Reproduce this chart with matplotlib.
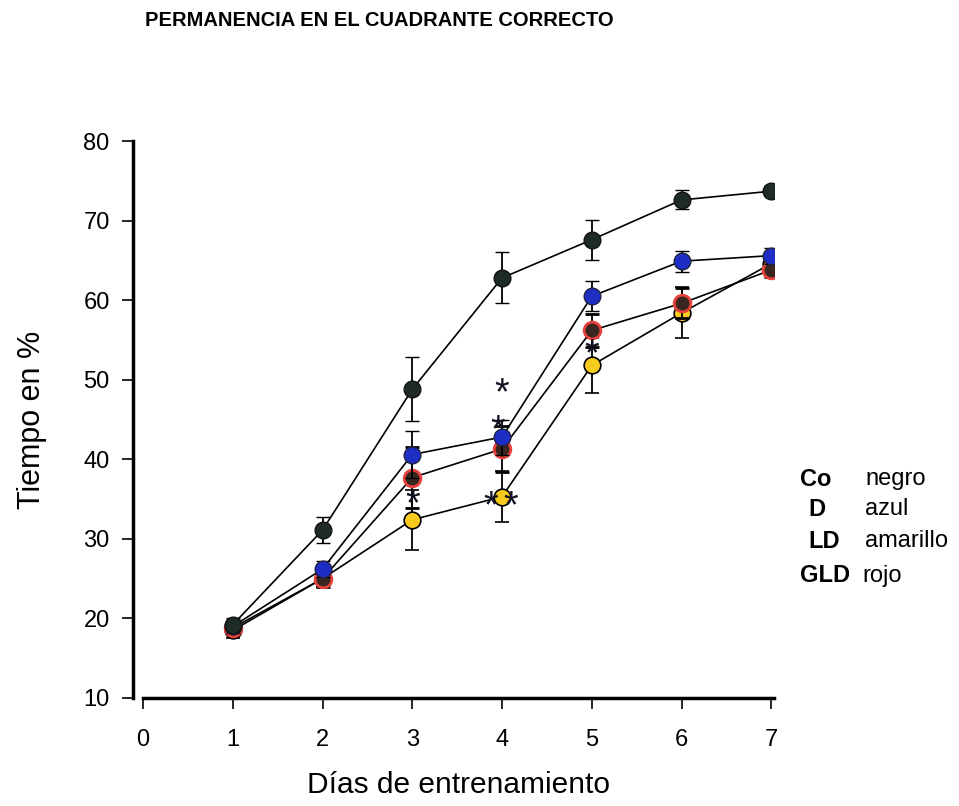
import matplotlib
matplotlib.use("Agg")
import matplotlib.pyplot as plt

plt.rcParams['font.family'] = ['Liberation Sans', 'DejaVu Sans']

days = [1, 2, 3, 4, 5, 6, 7]

# Series values (Tiempo en %) and standard errors
co_vals = [19.2, 31.1, 48.8, 62.8, 67.6, 72.6, 73.7]
co_err = [0.8, 1.6, 4.0, 3.2, 2.5, 1.2, 0.6]
d_vals = [19.0, 26.2, 40.6, 42.8, 60.5, 64.9, 65.6]
d_err = [0.8, 1.0, 3.0, 2.2, 1.9, 1.3, 1.0]
gld_vals = [18.8, 25.0, 37.7, 41.3, 56.2, 59.6, 63.8]
gld_err = [0.8, 1.0, 3.8, 2.9, 2.1, 1.9, 0.9]
ld_vals = [18.5, 25.0, 32.4, 35.3, 51.8, 58.4, 64.6]
ld_err = [1.0, 1.1, 3.8, 3.2, 3.5, 3.2, 1.0]

# significance asterisks
star_x = [3.0, 4.0, 3.95, 3.87, 4.1, 5.0]
star_y = [35.0, 49.0, 44.3, 34.8, 34.8, 53.9]

xticks = [0, 1, 2, 3, 4, 5, 6, 7]
yticks = [10, 20, 30, 40, 50, 60, 70, 80]

legend_keys = ['Co', 'D', 'LD', 'GLD']
legend_names = ['negro', 'azul', 'amarillo', 'rojo']

fig = plt.figure(figsize=(9.59, 8.06), dpi=100)
ax = fig.add_axes([0.1491, 0.134, 0.658, 0.691])

def series(vals, err, face, edge, mew, z):
    ax.errorbar(days, vals, yerr=err, color='black', lw=1.2, elinewidth=1.3,
                capsize=5, capthick=1.3, marker='o', markersize=12,
                markerfacecolor=face, markeredgecolor=edge, markeredgewidth=mew,
                zorder=z)

series(ld_vals, ld_err, '#f6cb1c', 'black', 1.2, 3)
series(gld_vals, gld_err, '#3a2620', '#e8403c', 2.0, 4)
series(d_vals, d_err, '#1d2ec4', '#222244', 1.0, 5)
series(co_vals, co_err, '#1f2b27', '#111111', 1.0, 6)

for sx, sy in zip(star_x, star_y):
    ax.text(sx, sy - 0.8, '*', fontsize=27, ha='center', va='center', color='#111122', zorder=7)

ax.set_xlim(0, 7.03)
ax.set_ylim(10, 80)
ax.set_xticks(xticks)
ax.set_yticks(yticks)
ax.spines['top'].set_visible(False)
ax.spines['right'].set_visible(False)
ax.spines['left'].set_position(('outward', 7))
ax.spines['left'].set_linewidth(2.5)
ax.spines['bottom'].set_linewidth(2.5)
ax.spines['left'].set_bounds(10, 80)
ax.tick_params(axis='both', direction='out', length=8, width=1.2, labelsize=17)
ax.tick_params(axis='x', pad=14)
ax.tick_params(axis='y', pad=9)

ax.set_xlabel('Días de entrenamiento', fontsize=21.5, labelpad=15)
ax.set_ylabel('Tiempo en %', fontsize=22, labelpad=26)

fig.text(0.151, 0.975, 'PERMANENCIA EN EL CUADRANTE CORRECTO', fontsize=14.5,
         fontweight='bold', ha='left', va='center')

key_x = [800, 808, 808, 800]
name_x = [865, 865, 865, 862]
key_y = [479, 509, 541, 576]
for k, n, kx, nx, ky in zip(legend_keys, legend_names, key_x, name_x, key_y):
    y = 1 - ky / 806
    fig.text(kx / 959, y, k, fontsize=17, fontweight='bold', ha='left', va='center')
    fig.text(nx / 959, y, n, fontsize=17, ha='left', va='center')

fig.savefig('out.png', dpi=100)
